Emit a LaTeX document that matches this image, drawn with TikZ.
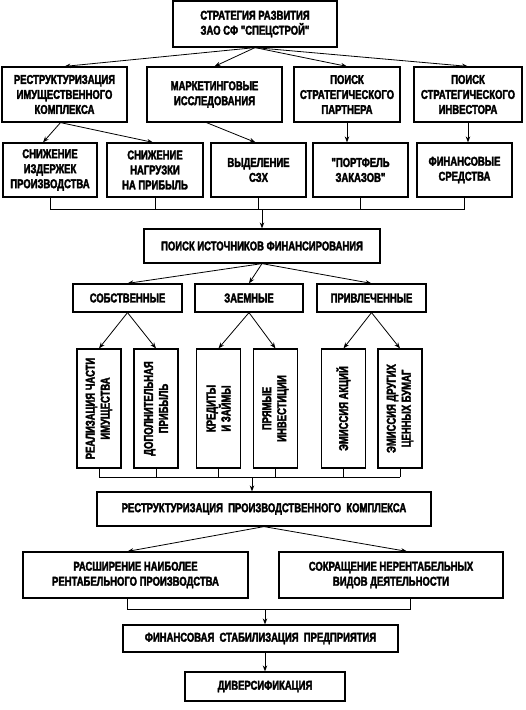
\documentclass[tikz,border=0pt]{standalone}
\usepackage{fontspec}
\newfontfamily\boxfont{Liberation Sans Bold}[FakeStretch=0.74,FakeBold=2.5]
\usetikzlibrary{arrows.meta,calc}
\tikzstyle{block}=[draw,line width=1.2pt,rectangle,fill=white,inner sep=1pt,align=center,font=\boxfont\fontsize{12.8}{15}\selectfont]
\tikzstyle{tall block}=[block,rotate=90,minimum width=119,minimum height=44]
\tikzstyle{link}=[draw,line width=0.8pt,-{Stealth[length=6pt,width=4.5pt]}]
\tikzstyle{joint}=[draw,line width=0.8pt]

\begin{document}
\begin{tikzpicture}[x=1pt,y=-1pt]
    \useasboundingbox (0,0) rectangle (526,710);

    % Nodes
    \node[block,minimum width=164,minimum height=46] (strat) at (255,24) {СТРАТЕГИЯ РАЗВИТИЯ\\ЗАО СФ "СПЕЦСТРОЙ"};

    \node[block,minimum width=125,minimum height=55] (restr) at (64.5,94.5) {РЕСТРУКТУРИЗАЦИЯ\\ИМУЩЕСТВЕННОГО\\КОМПЛЕКСА};
    \node[block,minimum width=135,minimum height=55] (market) at (214.5,94.5) {МАРКЕТИНГОВЫЕ\\ИССЛЕДОВАНИЯ};
    \node[block,minimum width=106,minimum height=55] (partner) at (347,94.5) {ПОИСК\\СТРАТЕГИЧЕСКОГО\\ПАРТНЕРА};
    \node[block,minimum width=108,minimum height=55] (investor) at (468,94.5) {ПОИСК\\СТРАТЕГИЧЕСКОГО\\ИНВЕСТОРА};

    \node[block,minimum width=94,minimum height=54] (cost) at (50,170) {СНИЖЕНИЕ\\ИЗДЕРЖЕК\\ПРОИЗВОДСТВА};
    \node[block,minimum width=96,minimum height=54] (load) at (155,170) {СНИЖЕНИЕ\\НАГРУЗКИ\\НА ПРИБЫЛЬ};
    \node[block,minimum width=95,minimum height=54] (sbu) at (258.5,170) {ВЫДЕЛЕНИЕ\\СЗХ};
    \node[block,minimum width=95,minimum height=54] (orders) at (360.5,170) {"ПОРТФЕЛЬ\\ЗАКАЗОВ"};
    \node[block,minimum width=95,minimum height=54] (funds) at (464.5,170) {ФИНАНСОВЫЕ\\СРЕДСТВА};

    \node[block,minimum width=236,minimum height=34] (search) at (262,246) {ПОИСК ИСТОЧНИКОВ ФИНАНСИРОВАНИЯ};

    \node[block,minimum width=109,minimum height=28] (own) at (127.5,298) {СОБСТВЕННЫЕ};
    \node[block,minimum width=108,minimum height=28] (loan) at (249,298) {ЗАЕМНЫЕ};
    \node[block,minimum width=109,minimum height=28] (raised) at (371.5,298) {ПРИВЛЕЧЕННЫЕ};

    \node[tall block] (sale) at (99,408.5) {РЕАЛИЗАЦИЯ ЧАСТИ\\ИМУЩЕСТВА};
    \node[tall block] (profit) at (156,408.5) {ДОПОЛНИТЕЛЬНАЯ\\ПРИБЫЛЬ};
    \node[tall block] (credit) at (218.5,408.5) {КРЕДИТЫ\\И ЗАЙМЫ};
    \node[tall block] (direct) at (275.5,408.5) {ПРЯМЫЕ\\ИНВЕСТИЦИИ};
    \node[tall block] (shares) at (343.5,408.5) {ЭМИССИЯ АКЦИЙ};
    \node[tall block] (papers) at (400,408.5) {ЭМИССИЯ ДРУГИХ\\ЦЕННЫХ БУМАГ};

    \node[block,minimum width=334,minimum height=34] (prod) at (264,509) {РЕСТРУКТУРИЗАЦИЯ\ \ ПРОИЗВОДСТВЕННОГО\ \ КОМПЛЕКСА};

    \node[block,minimum width=225,minimum height=46] (expand) at (135.5,575) {РАСШИРЕНИЕ НАИБОЛЕЕ\\РЕНТАБЕЛЬНОГО ПРОИЗВОДСТВА};
    \node[block,minimum width=224,minimum height=46] (cut) at (391,575) {СОКРАЩЕНИЕ НЕРЕНТАБЕЛЬНЫХ\\ВИДОВ ДЕЯТЕЛЬНОСТИ};

    \node[block,minimum width=275,minimum height=27] (stab) at (260.5,638.5) {ФИНАНСОВАЯ\ \ СТАБИЛИЗАЦИЯ\ \ ПРЕДПРИЯТИЯ};
    \node[block,minimum width=160,minimum height=29] (divers) at (265,686.5) {ДИВЕРСИФИКАЦИЯ};

    % Joining points
    \coordinate (join1) at (262,209);
    \coordinate (join2) at (252,477);
    \coordinate (join3) at (265,609);

    % Links from the strategy
    \foreach \dest in {restr,market,partner,investor}
        \path[link] (strat.south) -- (\dest.north);

    % Second row
    \path[link] ([xshift=-4pt]restr.south) -- ([xshift=-7pt]cost.north);
    \path[link] ([xshift=-4pt]restr.south) -- ([xshift=-2pt]load.north);
    \path[link] ([xshift=-8pt]market.south) -- ([xshift=-3pt]sbu.north);
    \path[link] (partner.south) -- (partner.south |- orders.north);
    \path[link] (investor.south) -- (investor.south |- funds.north);

    % Joining to the search
    \foreach \src in {cost,load,sbu,orders,funds}
        \path[joint] (\src.south) -- (\src.south |- join1);
    \path[joint] (cost.south |- join1) -- (funds.south |- join1);
    \path[link] (join1) -- (join1 |- search.north);

    % Sources of finance
    \foreach \dest in {own,loan,raised}
        \path[link] (search.south) -- (\dest.north);
    \foreach \src/\dest in {own/sale, own/profit, loan/credit, loan/direct,
                            raised/shares, raised/papers}
        \path[link] (\src.south) -- (\dest.east);

    % Joining to the restructuring
    \foreach \src in {sale,profit,credit,direct,shares,papers}
        \path[joint] (\src.west) -- (\src.west |- join2);
    \path[joint] (sale.west |- join2) -- (papers.west |- join2);
    \path[link] (join2) -- (join2 |- prod.north);

    % Lower part
    \path[link] (prod.south) -- ([xshift=-8pt]expand.north);
    \path[link] (prod.south) -- ([xshift=16pt]cut.north);
    \path[joint] ([xshift=-8pt]expand.south) -- ([xshift=-8pt]expand.south |- join3)
        -- ([xshift=19pt]cut.south |- join3) -- ([xshift=19pt]cut.south);
    \path[link] (join3) -- (join3 |- stab.north);
    \path[link] (join3 |- stab.south) -- (join3 |- divers.north);

\end{tikzpicture}
\end{document}
